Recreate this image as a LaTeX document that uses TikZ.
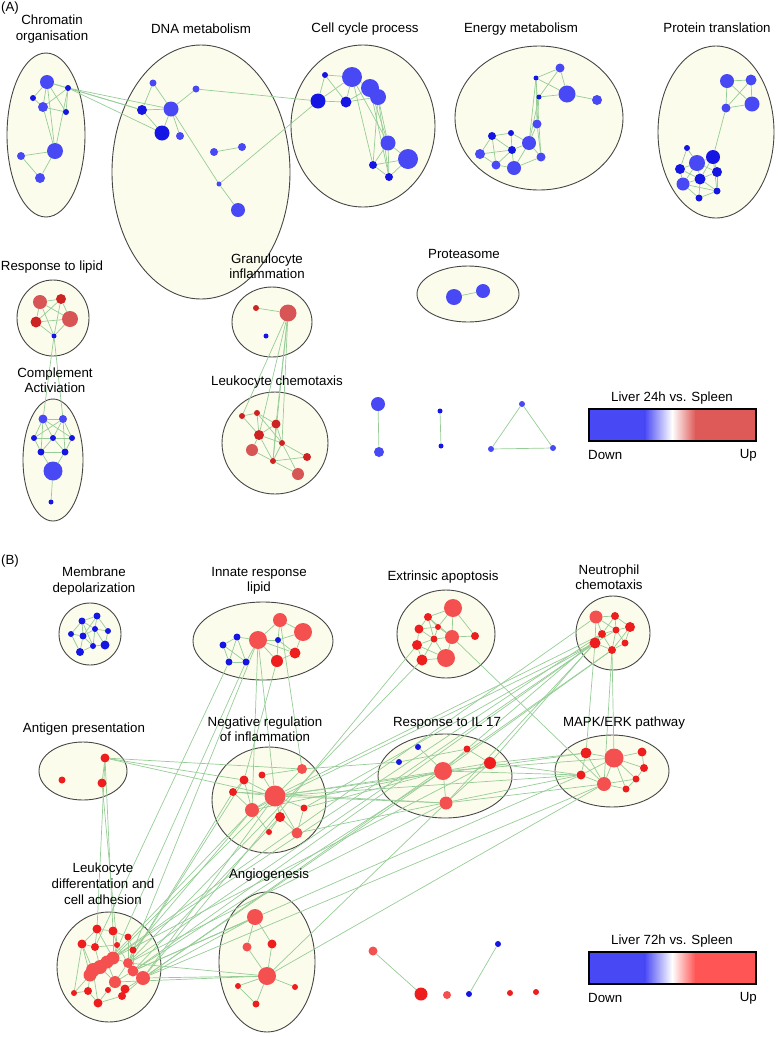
\documentclass[tikz,border=0pt]{standalone}
\usepackage{fontspec}
\setmainfont{Liberation Sans}
\usetikzlibrary{shapes.geometric}

\pgfdeclarelayer{hulls}
\pgfdeclarelayer{links}
\pgfsetlayers{hulls,links,main}

\definecolor{hullfill}{RGB}{252,252,236}
\definecolor{hulldraw}{RGB}{70,70,70}
\definecolor{linkgreen}{RGB}{150,205,150}
\definecolor{downblue}{RGB}{72,72,245}
\definecolor{downdark}{RGB}{22,22,228}
\definecolor{upAdark}{RGB}{205,35,35}
\definecolor{upAlight}{RGB}{215,85,85}
\definecolor{upBdark}{RGB}{238,30,30}
\definecolor{upBlight}{RGB}{245,80,80}
\definecolor{legredA}{RGB}{222,90,88}
\definecolor{legredB}{RGB}{255,85,85}

\tikzset{
  genedot/.style={circle, inner sep=0pt, draw=none},
  dnA/.style={genedot, fill=downblue},
  dnD/.style={genedot, fill=downdark},
  upAd/.style={genedot, fill=upAdark},
  upAl/.style={genedot, fill=upAlight},
  upBd/.style={genedot, fill=upBdark},
  upBl/.style={genedot, fill=upBlight},
  simlink/.style={draw=linkgreen, line width=0.7pt},
  hull/.style={ellipse, draw=hulldraw, fill=hullfill, line width=0.9pt, inner sep=0pt},
  clustername/.style={align=center, inner sep=0pt, font=\fontsize{13.3}{15.5}\selectfont},
}

% style, name, position, radius
\newcommand{\gene}[4]{%
  \node[#1, minimum size=2*#4pt] (#2) at (#3) {};
}
% name, centre, x radius, y radius
\newcommand{\hullnode}[4]{%
  \node[hull, minimum width=2*#3pt, minimum height=2*#4pt] (#1) at (#2) {};
}
% name, top, red, title
\newcommand{\legendbar}[4]{%
  \fill[downblue] (589,#2) rectangle (645,#2+32);
  \shade[left color=downblue, right color=white] (644.5,#2) rectangle (672,#2+32);
  \shade[left color=white, right color=#3] (672,#2) rectangle (695.5,#2+32);
  \fill[#3] (695,#2) rectangle (756,#2+32);
  \node[draw, line width=1.3pt, minimum width=167pt, minimum height=32pt, inner sep=0pt] (#1bar) at (672.5,#2+16) {};
  \node[clustername] (#1title) at (672,#2-11) {#4};
  \node[clustername, anchor=west] (#1down) at (588,#2+46) {Down};
  \node[clustername, anchor=east] (#1up) at (757,#2+46) {Up};
}

\begin{document}
\begin{tikzpicture}[x=1pt, y=-1pt]
\useasboundingbox (0,0) rectangle (778,1037);

%%%%%%%%%%%%%%%%%%%%%%%%%%%%%%%%%%%%%%%%%%%%%%%%%%%%%%%%%%%%%%%%%%%%%
% (A) Liver 24h

\node[clustername] (panA) at (10,8) {(A)};

\begin{pgfonlayer}{hulls}
  \hullnode{chrom}{46,135}{39}{82}
  \hullnode{dnamet}{201,172}{89}{127}
  \hullnode{cellcyc}{363,126}{72}{81}
  \hullnode{energy}{539,118}{84}{72}
  \hullnode{protein}{716,132}{58}{86}
  \hullnode{lipid}{53,318}{36}{38}
  \hullnode{complement}{53,460}{30}{61}
  \hullnode{granulo}{272,322}{40}{35}
  \hullnode{leukchem}{275,443}{53}{51}
  \hullnode{proteas}{468,294}{51}{28}
\end{pgfonlayer}

\node[clustername] (chromname) at (52,29) {Chromatin\\organisation};
\node[clustername] (dnaname) at (201,29) {DNA metabolism};
\node[clustername] (cellname) at (365,29) {Cell cycle process};
\node[clustername] (energyname) at (521,29) {Energy metabolism};
\node[clustername] (protname) at (717,28) {Protein translation};
\node[clustername] (lipidname) at (52,267) {Response to lipid};
\node[clustername] (compname) at (55,380) {Complement\\Activiation};
\node[clustername] (granname) at (267,266) {Granulocyte\\inflammation};
\node[clustername] (leukname) at (277,382) {Leukocyte chemotaxis};
\node[clustername] (protsname) at (464,254) {Proteasome};

% Chromatin
\gene{dnA}{ch1}{47,82}{7}
\gene{dnD}{ch2}{68,88}{3}
\gene{dnD}{ch3}{33,98}{3}
\gene{dnA}{ch4}{43,107}{5}
\gene{dnD}{ch5}{66,112}{3}
\gene{dnA}{ch6}{55,151}{8}
\gene{dnA}{ch7}{21,156}{4}
\gene{dnA}{ch8}{40,178}{5}
% DNA metabolism
\gene{dnA}{dn1}{153,83}{3.5}
\gene{dnA}{dn2}{196,89}{3.5}
\gene{dnD}{dn3}{142,110}{5}
\gene{dnA}{dn4}{171,109}{7.5}
\gene{dnD}{dn5}{162,133}{7.5}
\gene{dnA}{dn6}{180,136}{4}
\gene{dnA}{dn7}{214,152}{4}
\gene{dnA}{dn8}{242,147}{4}
\gene{dnA}{dn9}{219,184}{2.5}
\gene{dnA}{dn10}{238,210}{7}
% Cell cycle
\gene{dnD}{cc1}{325,75}{3}
\gene{dnA}{cc2}{352,77}{10}
\gene{dnA}{cc3}{370,88}{9}
\gene{dnA}{cc4}{378,97}{8}
\gene{dnD}{cc5}{318,101}{7.5}
\gene{dnD}{cc6}{346,102}{5.5}
\gene{dnA}{cc7}{388,143}{7.5}
\gene{dnA}{cc8}{408,159}{10}
\gene{dnD}{cc9}{373,165}{4}
\gene{dnD}{cc10}{389,177}{4}
% Energy
\gene{dnA}{en1}{560,68}{4.5}
\gene{dnD}{en2}{536,78}{2.5}
\gene{dnA}{en3}{567,94}{8.5}
\gene{dnD}{en4}{539,97}{2.5}
\gene{dnA}{en5}{597,100}{5}
\gene{dnA}{en6}{537,124}{4.5}
\gene{dnA}{en7}{529,143}{7}
\gene{dnA}{en8}{541,157}{4.5}
\gene{dnD}{en9}{492,136}{4}
\gene{dnD}{en10}{511,133}{3}
\gene{dnA}{en11}{480,154}{5}
\gene{dnD}{en12}{512,150}{4}
\gene{dnA}{en13}{496,165}{4.5}
\gene{dnA}{en14}{514,168}{7}
% Protein translation
\gene{dnA}{pt1}{727,81}{7}
\gene{dnA}{pt2}{751,80}{5.5}
\gene{dnA}{pt3}{726,108}{4.5}
\gene{dnA}{pt4}{752,104}{7.5}
\gene{dnD}{pt5}{687,148}{3}
\gene{dnA}{pt6}{697,163}{8}
\gene{dnD}{pt7}{713,157}{7}
\gene{dnD}{pt8}{680,169}{5}
\gene{dnD}{pt9}{700,179}{5.5}
\gene{dnD}{pt10}{717,172}{5}
\gene{dnA}{pt11}{683,184}{6.5}
\gene{dnD}{pt12}{717,191}{3.5}
\gene{dnD}{pt13}{699,198}{3.5}
% Response to lipid
\gene{upAl}{rl1}{40,302}{7}
\gene{upAd}{rl2}{61,299}{5}
\gene{upAd}{rl3}{36,322}{5.5}
\gene{upAl}{rl4}{70,319}{8}
\gene{dnD}{rl5}{54,336}{2.5}
% Complement
\gene{dnA}{ca1}{43,419}{4.5}
\gene{dnA}{ca2}{63,419}{4}
\gene{dnD}{ca3}{34,438}{3}
\gene{dnD}{ca4}{53,438}{3}
\gene{dnD}{ca5}{72,438}{3}
\gene{dnD}{ca6}{41,452}{3.5}
\gene{dnD}{ca7}{65,452}{3.5}
\gene{dnA}{ca8}{53,471}{9.5}
\gene{dnD}{ca9}{51,502}{2.5}
% Granulocyte
\gene{upAd}{gi1}{256,308}{3}
\gene{upAl}{gi2}{288,313}{8.5}
\gene{dnD}{gi3}{266,336}{2.5}
% Leukocyte chemotaxis
\gene{upAd}{lc1}{242,416}{3}
\gene{upAd}{lc2}{257,413}{3}
\gene{upAd}{lc3}{276,424}{4.5}
\gene{upAd}{lc4}{259,435}{5}
\gene{upAd}{lc5}{282,443}{3}
\gene{upAl}{lc6}{252,450}{6}
\gene{upAd}{lc7}{273,461}{3}
\gene{upAd}{lc8}{307,457}{4}
\gene{upAl}{lc9}{298,474}{6}
% Proteasome and loose pairs
\gene{dnA}{ps1}{454,297}{8}
\gene{dnA}{ps2}{483,291}{7}
\gene{dnA}{sa1}{378,404}{7}
\gene{dnA}{sa2}{379,452}{5}
\gene{dnD}{sb1}{440,411}{2.5}
\gene{dnD}{sb2}{441,446}{2.5}
\gene{dnA}{ta1}{522,404}{3}
\gene{dnA}{ta2}{491,449}{3}
\gene{dnA}{ta3}{553,448}{3}

\begin{pgfonlayer}{links}
  \foreach \a/\b in {ch1/ch2,ch1/ch3,ch1/ch4,ch1/ch5,ch1/ch6,ch2/ch4,ch2/ch6,ch3/ch4,
      ch4/ch5,ch4/ch6,ch2/ch5,ch6/ch7,ch7/ch8,ch6/ch8,
      ch2/dn3,ch2/dn4,ch2/dn5,ch1/dn3,
      dn1/dn3,dn1/dn4,dn2/dn4,dn3/dn4,dn4/dn5,dn4/dn6,dn3/dn5,dn4/dn9,dn9/dn10,dn7/dn8,
      dn2/cc5,dn9/cc5,
      cc1/cc2,cc1/cc5,cc2/cc5,cc2/cc6,cc5/cc6,cc6/cc3,cc6/cc4,cc2/cc3,cc2/cc7,cc2/cc9,
      cc3/cc7,cc4/cc7,cc4/cc9,cc4/cc10,cc3/cc10,cc7/cc9,cc7/cc8,cc7/cc10,cc8/cc9,
      cc8/cc10,cc9/cc10,cc1/cc6,
      en1/en2,en1/en4,en2/en3,en1/en3,en3/en4,en3/en5,en2/en6,en4/en6,en2/en7,en4/en7,
      en6/en7,en6/en8,en7/en8,en2/en8,en9/en10,en9/en11,en9/en12,en10/en12,en10/en7,
      en11/en12,en11/en13,en12/en13,en12/en14,en13/en14,en14/en7,en14/en8,en12/en7,en9/en13,
      pt1/pt2,pt1/pt3,pt2/pt4,pt3/pt4,pt1/pt4,pt2/pt3,pt3/pt7,pt5/pt6,pt5/pt8,pt6/pt7,
      pt6/pt8,pt6/pt9,pt6/pt10,pt7/pt10,pt7/pt9,pt8/pt9,pt8/pt11,pt9/pt11,pt9/pt10,
      pt9/pt12,pt9/pt13,pt10/pt12,pt11/pt13,pt12/pt13,pt11/pt12,pt6/pt11,pt7/pt12,
      rl1/rl2,rl1/rl3,rl2/rl4,rl3/rl4,rl1/rl4,rl2/rl3,rl3/rl5,rl4/rl5,rl1/rl5,rl2/rl5,
      rl5/ca1,rl5/ca2,
      ca1/ca2,ca1/ca3,ca1/ca4,ca1/ca5,ca2/ca4,ca2/ca5,ca2/ca3,ca3/ca4,ca4/ca5,ca3/ca6,
      ca4/ca6,ca4/ca7,ca5/ca7,ca6/ca7,ca6/ca8,ca7/ca8,ca1/ca6,ca2/ca7,ca8/ca9,
      gi1/gi2,gi2/lc1,gi2/lc3,gi2/lc5,gi2/lc7,gi2/lc4,
      lc1/lc2,lc1/lc4,lc2/lc3,lc2/lc4,lc3/lc4,lc3/lc5,lc4/lc5,lc4/lc6,lc4/lc7,lc5/lc7,
      lc5/lc8,lc7/lc8,lc7/lc9,lc5/lc9,lc6/lc7,lc3/lc7,lc2/lc5,
      ps1/ps2,sa1/sa2,sb1/sb2,ta1/ta2,ta1/ta3,ta2/ta3}
    \draw[simlink] (\a) -- (\b);
\end{pgfonlayer}

\legendbar{legA}{409}{legredA}{Liver 24h vs. Spleen}

%%%%%%%%%%%%%%%%%%%%%%%%%%%%%%%%%%%%%%%%%%%%%%%%%%%%%%%%%%%%%%%%%%%%%
% (B) Liver 72h

\node[clustername] (panB) at (10,561) {(B)};

\begin{pgfonlayer}{hulls}
  \hullnode{membrane}{90,634}{31}{31}
  \hullnode{innate}{263,641}{70}{39}
  \hullnode{extrinsic}{446,634}{49}{44}
  \hullnode{neutro}{613,633}{37}{37}
  \hullnode{antigen}{83,771}{44}{29}
  \hullnode{negreg}{269,800}{57}{53}
  \hullnode{ilseventeen}{445,776}{67}{42}
  \hullnode{mapk}{612,771}{57}{36}
  \hullnode{leukdiff}{109,967}{52}{55}
  \hullnode{angio}{267,962}{48}{70}
\end{pgfonlayer}

\node[clustername] (membname) at (94,581) {Membrane\\depolarization};
\node[clustername] (innname) at (259,581) {Innate response\\lipid};
\node[clustername] (extname) at (443,577) {Extrinsic apoptosis};
\node[clustername] (neutname) at (609,577) {Neutrophil\\chemotaxis};
\node[clustername] (antname) at (84,729) {Antigen presentation};
\node[clustername] (negname) at (265,729) {Negative regulation\\of inflammation};
\node[clustername] (ilname) at (447,723) {Response to IL 17};
\node[clustername] (mapkname) at (624,723) {MAPK/ERK pathway};
\node[clustername, font=\fontsize{13.3}{16}\selectfont] (ldname) at (103,884) {Leukocyte\\differentation and\\cell adhesion};
\node[clustername] (angname) at (269,875) {Angiogenesis};

% Membrane depolarization
\gene{dnD}{md1}{82,621}{3.5}
\gene{dnD}{md2}{97,616}{3.5}
\gene{dnD}{md3}{71,634}{3}
\gene{dnD}{md4}{83,636}{3.5}
\gene{dnD}{md5}{95,629}{3}
\gene{dnD}{md6}{108,631}{3}
\gene{dnD}{md7}{93,646}{3}
\gene{dnD}{md8}{105,645}{4.5}
\gene{dnD}{md9}{80,652}{4}
% Innate response lipid
\gene{dnD}{il1}{223,645}{3.5}
\gene{dnD}{il2}{237,637}{3.5}
\gene{dnD}{il3}{229,662}{3.5}
\gene{dnD}{il4}{246,662}{3.5}
\gene{upBl}{il5}{258,640}{9}
\gene{upBl}{il6}{280,620}{7}
\gene{upBl}{il7}{303,632}{9}
\gene{dnD}{il8}{278,640}{3}
\gene{upBd}{il9}{295,653}{5.5}
\gene{upBd}{il10}{277,661}{6}
% Extrinsic apoptosis
\gene{upBl}{ea1}{453,608}{9}
\gene{upBd}{ea2}{428,617}{4}
\gene{upBd}{ea3}{438,627}{3}
\gene{upBd}{ea4}{419,629}{4.5}
\gene{upBd}{ea5}{434,639}{3.5}
\gene{upBl}{ea6}{452,637}{7}
\gene{upBd}{ea7}{475,636}{4}
\gene{upBd}{ea8}{417,645}{5}
\gene{upBd}{ea9}{422,660}{5.5}
\gene{upBl}{ea10}{446,658}{9}
% Neutrophil chemotaxis
\gene{upBl}{nc1}{596,617}{6.5}
\gene{upBd}{nc2}{615,616}{4}
\gene{upBd}{nc3}{630,627}{5}
\gene{upBd}{nc4}{616,630}{3.5}
\gene{upBd}{nc5}{602,634}{4}
\gene{upBd}{nc6}{595,643}{5.5}
\gene{upBd}{nc7}{625,643}{3.5}
\gene{upBd}{nc8}{612,650}{4}
% Antigen presentation
\gene{upBd}{ap1}{105,758}{4.5}
\gene{upBd}{ap2}{62,780}{3.5}
\gene{upBd}{ap3}{102,783}{4.5}
% Negative regulation
\gene{upBd}{nr1}{244,780}{4.5}
\gene{upBd}{nr2}{233,792}{4}
\gene{upBl}{nr3}{252,810}{7}
\gene{upBd}{nr4}{262,775}{3.5}
\gene{upBl}{nr5}{302,769}{5}
\gene{upBl}{nr6}{275,796}{10.5}
\gene{upBd}{nr7}{304,808}{3.5}
\gene{upBd}{nr8}{280,817}{5}
\gene{upBd}{nr9}{269,832}{3}
\gene{upBl}{nr10}{297,833}{5.5}
% Response to IL 17
\gene{dnD}{ir1}{418,747}{3}
\gene{dnD}{ir2}{399,762}{3}
\gene{upBd}{ir3}{467,749}{3.5}
\gene{upBl}{ir4}{443,771}{9}
\gene{upBd}{ir5}{490,763}{6}
\gene{upBl}{ir6}{446,803}{6.5}
% MAPK/ERK
\gene{upBd}{mk1}{586,753}{5.5}
\gene{upBl}{mk2}{614,758}{9.5}
\gene{upBd}{mk3}{642,752}{4.5}
\gene{upBd}{mk4}{644,768}{4}
\gene{upBd}{mk5}{581,775}{4.5}
\gene{upBl}{mk6}{604,784}{7}
\gene{upBd}{mk7}{636,779}{3.5}
\gene{upBd}{mk8}{626,789}{3.5}
% Leukocyte differentation
\gene{upBd}{ld1}{97,929}{4.5}
\gene{upBd}{ld2}{113,931}{4.5}
\gene{upBd}{ld3}{128,937}{3.5}
\gene{upBd}{ld4}{82,944}{4.5}
\gene{upBd}{ld5}{95,947}{4}
\gene{upBd}{ld6}{117,945}{3}
\gene{upBd}{ld7}{133,950}{3.5}
\gene{upBl}{ld8}{113,958}{6.5}
\gene{upBl}{ld9}{107,962}{6.5}
\gene{upBl}{ld10}{100,967}{7}
\gene{upBl}{ld11}{93,970}{7}
\gene{upBl}{ld12}{90,975}{6.5}
\gene{upBl}{ld13}{128,963}{5}
\gene{upBl}{ld14}{133,971}{5.5}
\gene{upBl}{ld15}{143,978}{7}
\gene{upBl}{ld16}{115,982}{6}
\gene{upBd}{ld17}{88,991}{4}
\gene{upBd}{ld18}{74,993}{3}
\gene{upBd}{ld19}{108,990}{3}
\gene{upBd}{ld20}{125,989}{4.5}
\gene{upBd}{ld21}{122,996}{4}
\gene{upBd}{ld22}{98,1003}{4.5}
% Angiogenesis
\gene{upBl}{ag1}{255,917}{8}
\gene{upBl}{ag2}{247,947}{4.5}
\gene{upBd}{ag3}{272,944}{4.5}
\gene{upBl}{ag4}{267,976}{9}
\gene{upBd}{ag5}{238,986}{3}
\gene{upBd}{ag6}{295,987}{3}
\gene{upBd}{ag7}{256,1004}{3.5}
% loose genes
\gene{upBl}{sc1}{373,951}{4.5}
\gene{upBd}{sc2}{421,994}{6.5}
\gene{upBl}{sc3}{447,995}{4}
\gene{dnD}{sd1}{469,994}{3}
\gene{dnD}{sd2}{498,944}{3}
\gene{upBd}{se1}{510,993}{3}
\gene{upBd}{se2}{536,992}{3}

\begin{pgfonlayer}{links}
  \foreach \a/\b in {md1/md2,md1/md3,md1/md4,md1/md5,md2/md5,md2/md6,md3/md4,md4/md5,
      md5/md6,md4/md7,md5/md8,md6/md8,md7/md8,md4/md9,md3/md9,md7/md9,md1/md7,md2/md4,md5/md7,
      il1/il2,il1/il3,il1/il4,il2/il3,il2/il4,il3/il4,il2/il5,il4/il5,il5/il6,il5/il8,
      il5/il10,il6/il7,il6/il8,il7/il8,il7/il9,il8/il9,il8/il10,il9/il10,il5/il9,
      ea1/ea2,ea1/ea3,ea1/ea6,ea2/ea3,ea2/ea4,ea2/ea5,ea3/ea5,ea3/ea6,ea4/ea5,ea4/ea8,
      ea5/ea6,ea5/ea8,ea5/ea9,ea6/ea7,ea6/ea10,ea8/ea9,ea9/ea10,ea5/ea10,ea1/ea7,ea2/ea6,
      ea4/ea3,ea8/ea10,
      nc1/nc2,nc1/nc4,nc1/nc5,nc2/nc3,nc2/nc4,nc3/nc4,nc3/nc7,nc4/nc5,nc4/nc6,nc4/nc7,
      nc4/nc8,nc5/nc6,nc5/nc8,nc6/nc8,nc7/nc8,nc1/nc6,nc2/nc5,nc3/nc8,
      ap1/ap3,
      nr1/nr2,nr1/nr6,nr2/nr3,nr2/nr6,nr3/nr6,nr4/nr6,nr5/nr6,nr6/nr7,nr6/nr8,nr6/nr10,
      nr8/nr9,nr8/nr10,nr7/nr10,nr3/nr9,nr1/nr3,nr4/nr5,
      ir1/ir4,ir2/ir3,ir3/ir4,ir3/ir5,ir4/ir5,ir4/ir6,ir5/ir6,
      mk1/mk2,mk1/mk5,mk2/mk3,mk2/mk4,mk2/mk5,mk2/mk6,mk2/mk7,mk2/mk8,mk3/mk4,mk4/mk7,
      mk5/mk6,mk6/mk8,mk7/mk8,mk6/mk7,mk1/mk6,
      ld1/ld2,ld1/ld4,ld1/ld5,ld1/ld8,ld2/ld3,ld2/ld6,ld2/ld8,ld3/ld7,ld3/ld13,ld4/ld5,
      ld4/ld11,ld4/ld12,ld5/ld6,ld5/ld10,ld6/ld8,ld6/ld13,ld7/ld13,ld7/ld14,ld8/ld9,
      ld9/ld10,ld10/ld11,ld11/ld12,ld8/ld13,ld13/ld14,ld14/ld15,ld13/ld16,ld12/ld17,
      ld17/ld18,ld12/ld18,ld11/ld22,ld16/ld19,ld16/ld20,ld20/ld21,ld15/ld20,ld14/ld16,
      ld19/ld22,ld10/ld16,ld9/ld16,ld17/ld22,ld21/ld22,ld15/ld21,ld4/ld18,
      ag1/ag2,ag1/ag3,ag3/ag4,ag2/ag4,ag4/ag5,ag4/ag6,ag4/ag7,ag5/ag7,
      sc1/sc2,sd1/sd2}
    \draw[simlink] (\a) -- (\b);
  % links between the clusters
  \foreach \a/\b in {ap1/nr1,ap1/nr6,ap1/nr5,ap1/ld1,ap1/ld2,ap3/ld6,
      il5/nr6,il5/nr3,il4/ld8,il3/ld5,il5/ld13,il6/nr5,il10/nr1,
      ea8/ld15,ea6/mk6,ea9/ld13,
      nc6/ld13,nc5/ld8,nc8/ld15,nc6/ld14,nc1/ld9,nc5/nr6,nc6/nr3,nc6/nr7,nc8/ir4,
      nc6/ir6,nc5/ir5,nc8/mk2,nc6/mk1,nc8/mk6,nc5/ir3,
      nr6/ir4,nr6/ir6,nr5/ir2,nr7/ir4,nr10/mk5,nr6/mk1,nr3/ir4,nr6/mk5,nr2/ir6,
      ir4/mk5,ir5/mk1,ir6/mk6,ir4/mk2,ir5/mk5,
      ld15/ag1,ld15/ag4,ld13/ag4,ld14/ag1,ld16/ag4,
      ld15/ir4,ld13/ir6,ld8/ir5,ld14/ir4,ld15/mk6,ld14/mk5,
      ag4/mk6,ag4/ir6,
      ld8/nr6,ld9/nr3,ld13/nr2,ld15/nr6,ld14/nr8,ld13/nr1,ld7/nr3}
    \draw[simlink] (\a) -- (\b);
\end{pgfonlayer}

\legendbar{legB}{952}{legredB}{Liver 72h vs. Spleen}

\end{tikzpicture}
\end{document}
